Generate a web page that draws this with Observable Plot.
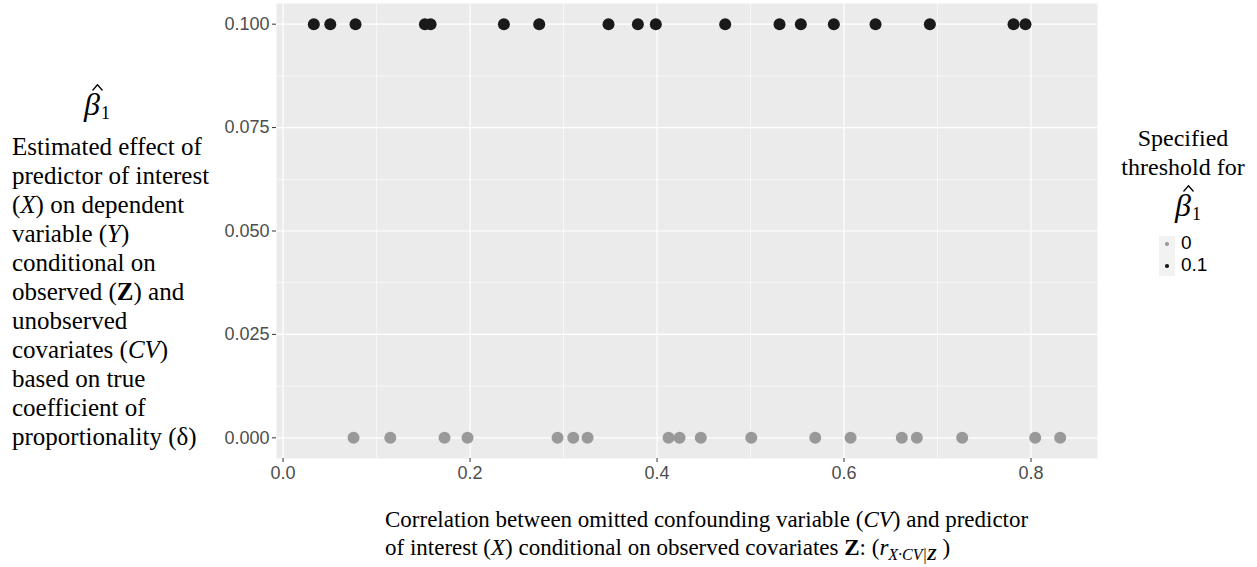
<!DOCTYPE html>
<html>
<head>
<meta charset="utf-8">
<script src="https://cdn.jsdelivr.net/npm/d3@7"></script>
<script src="https://cdn.jsdelivr.net/npm/@observablehq/plot@0.6"></script>
<style>
  html, body { margin: 0; padding: 0; background: #fff; }
  #wrap { position: relative; width: 1257px; height: 567px; overflow: hidden; }
  .serif { font-family: "Liberation Serif", "Times New Roman", serif; color: #000; position: absolute; }
  .beta { font-size: 32px; line-height: 32px; white-space: nowrap; }
  .beta .bh { position: relative; display: inline-block; font-style: italic; }
  .beta .hat { position: absolute; left: 8px; top: -4px; width: 11px; height: 7px; overflow: visible; }
  .beta sub { font-style: normal; font-size: 18px; vertical-align: -4px; margin-left: 1px; }
  #ylab { left: 12px; top: 132px; font-size: 25px; line-height: 29px; white-space: nowrap; }
  #ybeta { left: 84px; top: 88px; }
  #xlab { left: 385px; top: 506px; font-size: 23px; line-height: 28px; white-space: nowrap; }
  #xlab sub { font-size: 16px; vertical-align: -5px; }
  #legtitle { left: 1106px; width: 154px; top: 124px; text-align: center; font-size: 24px; line-height: 29px; }
  #legbeta { left: 1175px; top: 189px; }
  #legkeys { position: absolute; left: 1159px; top: 236px; width: 16px; height: 40px; background: #f2f2f2; }
  .kdot { position: absolute; width: 3.5px; height: 3.5px; border-radius: 50%; left: 6px; }
  .klab { position: absolute; left: 1181px; font-family: "Liberation Sans", Arial, sans-serif; font-size: 19px; color: #000; line-height: 20px; }
</style>
</head>
<body>
<div id="wrap">
  <div id="chart"></div>
  <div class="serif beta" id="ybeta"><span class="bh">β<svg class="hat" viewBox="0 0 11 7"><polyline points="0.5,6.5 5.5,0.8 10.5,6.5" fill="none" stroke="#000" stroke-width="1.3"/></svg></span><sub>1</sub></div>
  <div class="serif" id="ylab">Estimated effect of<br>predictor of interest<br>(<i>X</i>) on dependent<br>variable (<i>Y</i>)<br>conditional on<br>observed (<b>Z</b>) and<br>unobserved<br>covariates (<i>CV</i>)<br>based on true<br>coefficient of<br>proportionality (δ)</div>
  <div class="serif" id="xlab">Correlation between omitted confounding variable (<i>CV</i>) and predictor<br>of interest (<i>X</i>) conditional on observed covariates <b>Z</b>: (<i>r</i><sub><i>X·CV|<b>Z</b></i></sub> )</div>
  <div class="serif" id="legtitle">Specified<br>threshold for</div>
  <div class="serif beta" id="legbeta"><span class="bh">β<svg class="hat" viewBox="0 0 11 7"><polyline points="0.5,6.5 5.5,0.8 10.5,6.5" fill="none" stroke="#000" stroke-width="1.3"/></svg></span><sub>1</sub></div>
  <div id="legkeys"></div>
</div>
<script>
// Threshold categories and their colours
const thresholds = ["0", "0.1"];
const thresholdValues = [0, 0.1];
const thresholdColors = ["#999999", "#1a1a1a"];

// Correlation values (x) for points at each threshold
const corrThreshold0 = [0.0754, 0.1147, 0.1727, 0.1973, 0.2936, 0.3104, 0.3257, 0.4123, 0.4241,
  0.4468, 0.5008, 0.5692, 0.6070, 0.6618, 0.6779, 0.7264, 0.8045, 0.8312];
const corrThreshold01 = [0.0329, 0.0505, 0.0775, 0.1517, 0.1578, 0.2362, 0.2740, 0.3481, 0.3795,
  0.3987, 0.4729, 0.5310, 0.5538, 0.5891, 0.6337, 0.6918, 0.7813, 0.7941];

// Tick values
const xTicks = [0, 0.2, 0.4, 0.6, 0.8];
const xMinor = [0.1, 0.3, 0.5, 0.7];
const yTicks = [0, 0.025, 0.05, 0.075, 0.1];
const yMinor = [0.0125, 0.0375, 0.0625, 0.0875];

const rows = [
  ...corrThreshold0.map(r => ({r, beta: thresholdValues[0], t: thresholds[0]})),
  ...corrThreshold01.map(r => ({r, beta: thresholdValues[1], t: thresholds[1]}))
];

// ggplot-style 5% expansion
const [x0, x1] = d3.extent(rows, d => d.r);
const ex = (x1 - x0) * 0.05;
const [y0, y1] = d3.extent(thresholdValues);
const ey = (y1 - y0) * 0.05;

const chart = Plot.plot({
  width: 1257,
  height: 567,
  marginLeft: 276,
  marginRight: 160,
  marginTop: 3,
  marginBottom: 109,
  style: { fontFamily: "'Liberation Sans', Arial, sans-serif", fontSize: "18px", background: "transparent" },
  x: { domain: [x0 - ex, x1 + ex] },
  y: { domain: [y0 - ey, y1 + ey] },
  color: { domain: thresholds, range: thresholdColors },
  marks: [
    Plot.frame({ fill: "#ebebeb", stroke: null }),
    Plot.ruleX(xMinor, { stroke: "#fff", strokeWidth: 0.6 }),
    Plot.ruleY(yMinor, { stroke: "#fff", strokeWidth: 0.6 }),
    Plot.ruleX(xTicks, { stroke: "#fff", strokeWidth: 1.2 }),
    Plot.ruleY(yTicks, { stroke: "#fff", strokeWidth: 1.2 }),
    Plot.axisX({ ticks: xTicks, tickFormat: d3.format(".1f"), tickSize: 4, tickPadding: 4,
      stroke: "#333", fill: "#4d4d4d", fontSize: 18, label: null }),
    Plot.axisY({ ticks: yTicks, tickFormat: d3.format(".3f"), tickSize: 4, tickPadding: 3,
      stroke: "#333", fill: "#4d4d4d", fontSize: 18, label: null }),
    Plot.dot(rows, { x: "r", y: "beta", fill: "t", r: 6, stroke: null })
  ]
});
document.getElementById("chart").appendChild(chart);

// Legend keys from the colour scale
const keys = document.getElementById("legkeys");
thresholds.forEach((t, i) => {
  const dot = document.createElement("div");
  dot.className = "kdot";
  dot.style.background = chart.scale("color").apply(t);
  dot.style.top = (i === 0 ? 6 : 28) + "px";
  keys.appendChild(dot);
  const lab = document.createElement("div");
  lab.className = "klab";
  lab.textContent = t;
  lab.style.top = (i === 0 ? 233 : 255) + "px";
  document.getElementById("wrap").appendChild(lab);
});
</script>
</body>
</html>
